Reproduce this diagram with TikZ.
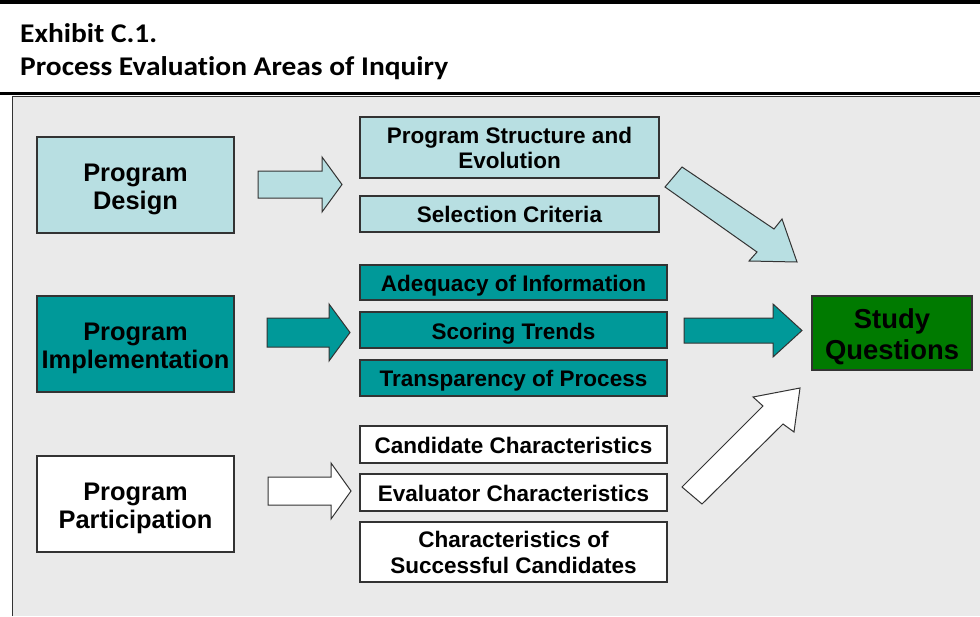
\documentclass[tikz,border=0pt]{standalone}
\usepackage{fontspec}
\setmainfont{Liberation Sans}
\newfontfamily\hdrfont[Ligatures=NoCommon, FakeStretch=1.09]{Carlito}
\definecolor{lcyan}{HTML}{B8DFE2}
\definecolor{teal2}{HTML}{009999}
\definecolor{dgreen}{HTML}{007A00}
\definecolor{panel}{HTML}{EAEAEA}
\definecolor{edge}{HTML}{333333}
\newcommand{\dn}[2]{\raisebox{-#1pt}[\height][\depth]{\begin{tabular}{@{}c@{}}#2\end{tabular}}}
\begin{document}
\begin{tikzpicture}[x=1pt,y=-1pt,
  box/.style={draw=edge, line width=1.1pt, inner sep=0pt, text=black},
  bigbox/.style={box, minimum width=197pt, minimum height=96pt, font=\bfseries\fontsize{25.4}{28}\selectfont},
  midbox/.style={box, font=\bfseries\fontsize{22.5}{25.5}\selectfont},
  barrow/.style={draw=edge, line width=1pt, line join=miter}]
\useasboundingbox (0,0) rectangle (980,616);
% header
\fill[black] (0,0) rectangle (980,4);
\node[anchor=base west, font=\hdrfont\bfseries\fontsize{27}{30}\selectfont, inner sep=0pt] (t1) at (20,42) {Exhibit C.1.};
\node[anchor=base west, font=\hdrfont\bfseries\fontsize{27}{30}\selectfont, inner sep=0pt] (t2) at (20,75) {Process Evaluation Areas of Inquiry};
% panel
\fill[panel] (12,96) rectangle (980,616);
\fill[black] (0,91.5) rectangle (980,94.8);
\draw[edge, line width=1.2pt] (12.5,616) -- (12.5,96.6) -- (980,96.6);
% left boxes
\node[bigbox, fill=lcyan] (design) at (135.5,185) {\dn{5}{Program\\Design}};
\node[bigbox, fill=teal2] (impl) at (135.5,344) {\dn{5}{Program\\Implementation}};
\node[bigbox, fill=white] (part) at (135.5,504) {\dn{5}{Program\\Participation}};
% study
\node[box, fill=dgreen, minimum width=160pt, minimum height=74pt, font=\bfseries\fontsize{27.4}{31}\selectfont] (study) at (892,333) {\dn{5}{Study\\Questions}};
% middle boxes
\node[midbox, fill=lcyan, minimum width=299pt, minimum height=61pt] (struct) at (509.5,147.5) {\dn{3.5}{Program Structure and\\Evolution}};
\node[midbox, fill=lcyan, minimum width=299pt, minimum height=36pt] (sel) at (509.5,214) {\dn{3.5}{Selection Criteria}};
\node[midbox, fill=teal2, minimum width=307pt, minimum height=35pt] (adeq) at (513.5,282.5) {\dn{4}{Adequacy of Information}};
\node[midbox, fill=teal2, minimum width=307pt, minimum height=36pt] (score) at (513.5,330) {\dn{4}{Scoring Trends}};
\node[midbox, fill=teal2, minimum width=307pt, minimum height=36pt] (transp) at (513.5,378) {\dn{3.5}{Transparency of Process}};
\node[midbox, fill=white, minimum width=307pt, minimum height=37pt] (cand) at (513.5,444.5) {\dn{4}{Candidate Characteristics}};
\node[midbox, fill=white, minimum width=307pt, minimum height=37pt] (eval) at (513.5,492.5) {\dn{4}{Evaluator Characteristics}};
\node[midbox, fill=white, minimum width=307pt, minimum height=60pt] (succ) at (513.5,552) {\dn{3.5}{Characteristics of\\Successful Candidates}};
% block arrows
\draw[barrow, fill=lcyan] (258,171) -- (322,171) -- (322,157) -- (342,184.5) -- (322,212) -- (322,198) -- (258,198) -- cycle;
\draw[barrow, fill=teal2] (267,318) -- (329,318) -- (329,304) -- (350,332.5) -- (329,361) -- (329,347) -- (267,347) -- cycle;
\draw[barrow, fill=white] (268,477) -- (331,477) -- (331,463) -- (351,491) -- (331,519) -- (331,505) -- (268,505) -- cycle;
\draw[barrow, fill=teal2] (684,318) -- (773,318) -- (773,304) -- (802,330.5) -- (773,357) -- (773,343) -- (684,343) -- cycle;
\draw[barrow, fill=lcyan] (682,167) -- (774,229) -- (782,219) -- (797,262) -- (749,261) -- (757,252) -- (665,187) -- cycle;
\draw[barrow, fill=white] (682,487) -- (763,406) -- (753,397) -- (800,388) -- (794,432) -- (783,424) -- (702,504) -- cycle;
\end{tikzpicture}
\end{document}
